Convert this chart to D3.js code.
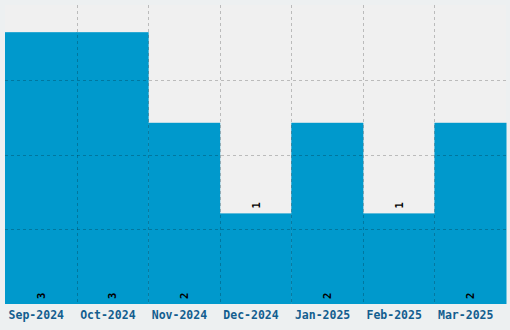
<!DOCTYPE html>
<html>
<head>
<meta charset="utf-8">
<script src="https://cdn.jsdelivr.net/npm/d3@7"></script>
<style>
  body { margin: 0; background: #edf0f1; }
  svg { display: block; }
  .mono { font-family: "DejaVu Sans Mono", "Liberation Mono", monospace; font-weight: bold; }
</style>
</head>
<body>
<div id="chart"></div>
<script>
// data
const months = ["Sep-2024", "Oct-2024", "Nov-2024", "Dec-2024", "Jan-2025", "Feb-2025", "Mar-2025"];
const counts = [3, 3, 2, 1, 2, 1, 2];

const svg_width = 510, svg_height = 330;
const margin = { top: 5, right: 4, bottom: 26, left: 5 };
const width = svg_width - margin.left - margin.right;
const height = svg_height - margin.top - margin.bottom;

const svg = d3.select("#chart").append("svg")
  .attr("width", svg_width)
  .attr("height", svg_height);

const g = svg.append("g")
  .attr("transform", `translate(${margin.left}, ${margin.top})`);

const x = d3.scaleBand().domain(months).range([0, width]).padding(0);
const yMax = d3.max(counts) * 1.1;
const y = d3.scaleLinear().domain([0, yMax]).range([height, 0]);

// plot background
g.append("rect")
  .attr("width", width)
  .attr("height", height)
  .attr("fill", "#f0f0f0");

// bars
g.selectAll("rect.bar")
  .data(counts)
  .enter()
  .append("rect")
  .attr("class", "bar")
  .attr("x", (d, i) => x(months[i]))
  .attr("y", d => y(d))
  .attr("width", x.bandwidth() + 0.5)
  .attr("height", d => height - y(d))
  .attr("fill", "#0099cc");

// grid lines (on top, semi transparent)
const gridY = d3.range(1, 4).map(k => yMax * k / 4);
g.selectAll("line.hgrid")
  .data(gridY)
  .enter()
  .append("line")
  .attr("x1", 0).attr("x2", width)
  .attr("y1", d => Math.round(y(d)) + 0.5)
  .attr("y2", d => Math.round(y(d)) + 0.5)
  .attr("stroke", "rgba(0,0,0,0.22)")
  .attr("stroke-dasharray", "3,3");

g.selectAll("line.vgrid")
  .data(months.slice(1))
  .enter()
  .append("line")
  .attr("x1", d => Math.round(x(d)) + 0.5)
  .attr("x2", d => Math.round(x(d)) + 0.5)
  .attr("y1", 0).attr("y2", height)
  .attr("stroke", "rgba(0,0,0,0.22)")
  .attr("stroke-dasharray", "3,3");

// value labels, rotated
g.selectAll("text.val")
  .data(counts)
  .enter()
  .append("text")
  .attr("class", "val mono")
  .attr("transform", (d, i) => {
    const cx = x(months[i]) + x.bandwidth() / 2 + 4;
    const cy = d > 1 ? height - 5 : y(d) - 5;
    return `translate(${cx}, ${cy}) rotate(-90)`;
  })
  .style("font-size", "10.5px")
  .attr("fill", "#000")
  .text(d => d);

// x axis labels
const xAxis = d3.axisBottom(x).tickSize(0).tickPadding(7);
const ax = g.append("g")
  .attr("transform", `translate(0, ${height})`)
  .call(xAxis);
ax.select(".domain").remove();
ax.attr("font-family", null);
ax.selectAll("text")
  .attr("class", "mono")
  .attr("dx", -4.5)
  .style("font-size", "11.5px")
  .attr("fill", "#135e8f");
</script>
</body>
</html>
